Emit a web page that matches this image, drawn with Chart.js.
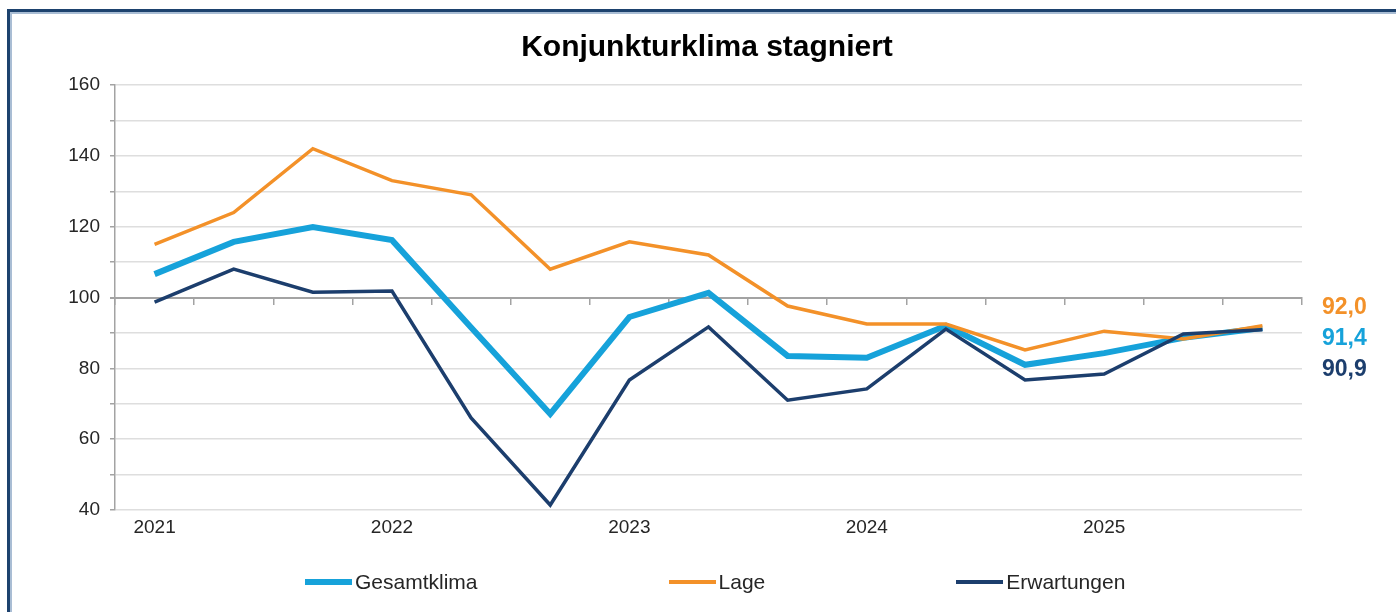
<!DOCTYPE html>
<html lang="de">
<head>
<meta charset="UTF-8">
<title>Konjunkturklima stagniert</title>
<style>
    body { margin: 0; width: 1396px; height: 612px; background: #fff; position: relative; overflow: hidden; font-family: "Liberation Sans", Arial, sans-serif; }
    #rahmen { position: absolute; left: 7px; top: 9px; width: 1400px; height: 620px; border-left: 3px solid #1d426e; border-top: 3px solid #1d426e; box-shadow: inset 2px 2px 0 #a9bdd4; }
    #chart { position: absolute; left: 0; top: 0; }
    #legende { position: absolute; left: 305px; top: 570px; display: flex; gap: 191px; font-size: 21px; color: #262626; }
    .eintrag { display: flex; align-items: center; }
    .linie { width: 47px; margin-right: 3px; }
</style>
</head>
<body>
    <div id="rahmen"></div>
    <canvas id="chart" width="1396" height="612"></canvas>
    <div id="legende"></div>

    <script src="https://cdn.jsdelivr.net/npm/chart.js"></script>
    <script>
        // drei Werte pro Jahr, 2021 bis 2025
        const perioden = ['2021-1', '2021-2', '2021-3', '2022-1', '2022-2', '2022-3', '2023-1', '2023-2', '2023-3',
            '2024-1', '2024-2', '2024-3', '2025-1', '2025-2', '2025-3'];
        const jahre = ['2021', '2022', '2023', '2024', '2025'];
        const yTicks = [40, 60, 80, 100, 120, 140, 160];

        const gesamtklima = [106.6, 115.7, 119.9, 116.2, 91.5, 67.1, 94.5, 101.3, 83.5, 83.0, 92.0, 81.0, 84.3, 88.6, 91.4];
        const lage = [115.0, 124.0, 142.0, 133.0, 129.0, 108.0, 115.7, 112.0, 97.6, 92.5, 92.5, 85.2, 90.5, 88.3, 92.0];
        const erwartungen = [98.7, 108.0, 101.5, 101.8, 66.0, 41.4, 76.7, 91.7, 71.0, 74.2, 91.1, 76.7, 78.4, 89.7, 90.9];

        const serien = [
            { label: 'Gesamtklima', data: gesamtklima, color: '#16a2da', width: 6, order: 2 },
            { label: 'Lage', data: lage, color: '#f39129', width: 3.5, order: 1 },
            { label: 'Erwartungen', data: erwartungen, color: '#1c3e6d', width: 3.5, order: 0 }
        ];

        // Legende als HTML
        const legende = document.getElementById('legende');
        serien.forEach(s => {
            legende.innerHTML += `<div class="eintrag"><span class="linie" style="height:${s.width}px;background:${s.color}"></span>${s.label}</div>`;
        });

        const endwerte = {
            id: 'endwerte',
            afterDraw(chart) {
                const ctx = chart.ctx;
                const y100 = chart.scales.y.getPixelForValue(100);
                const sortiert = [...serien].sort((a, b) => b.data[b.data.length - 1] - a.data[a.data.length - 1]);
                ctx.save();
                ctx.font = 'bold 23px "Liberation Sans", Arial, sans-serif';
                ctx.textBaseline = 'middle';
                ctx.textAlign = 'left';
                sortiert.forEach((s, i) => {
                    const wert = s.data[s.data.length - 1].toFixed(1).replace('.', ',');
                    ctx.fillStyle = s.color;
                    ctx.fillText(wert, chart.chartArea.right + 20, y100 + 10 + i * 31);
                });
                ctx.restore();
            }
        };

        Chart.defaults.font.family = '"Liberation Sans", Arial, sans-serif';
        Chart.defaults.color = '#262626';

        new Chart(document.getElementById('chart'), {
            type: 'line',
            data: {
                labels: perioden,
                datasets: serien.map(s => ({
                    label: s.label,
                    data: s.data,
                    borderColor: s.color,
                    backgroundColor: s.color,
                    borderWidth: s.width,
                    pointRadius: 0,
                    tension: 0,
                    order: s.order
                }))
            },
            options: {
                responsive: false,
                animation: false,
                devicePixelRatio: 1,
                layout: { padding: { left: 18, right: 0, top: 0, bottom: 72 } },
                plugins: {
                    legend: { display: false },
                    tooltip: { enabled: false },
                    title: {
                        display: true,
                        text: 'Konjunkturklima stagniert',
                        color: '#000',
                        font: { size: 30, weight: 'bold' },
                        padding: { top: 30, bottom: 19 }
                    }
                },
                scales: {
                    x: {
                        offset: true,
                        grid: { display: false },
                        border: { display: false },
                        ticks: {
                            autoSkip: false,
                            maxRotation: 0,
                            padding: -2,
                            font: { size: 19 },
                            callback: (v, i) => i % 3 === 0 ? jahre[i / 3] : ''
                        },
                        afterFit: s => { s.height = 30; }
                    },
                    x2: {
                        type: 'category',
                        labels: perioden,
                        offset: true,
                        position: { y: 100 },
                        grid: { offset: true, drawOnChartArea: false, tickLength: 6, color: '#a3a3a3', lineWidth: 1.5 },
                        border: { display: true, color: '#a3a3a3', width: 2 },
                        ticks: { display: false }
                    },
                    y: {
                        min: 40,
                        max: 160,
                        ticks: {
                            stepSize: 10,
                            padding: 10,
                            font: { size: 19 },
                            callback: v => yTicks.includes(v) ? v : ''
                        },
                        grid: {
                            color: c => c.tick && c.tick.value === 100 ? '#a3a3a3' : '#dedede',
                            lineWidth: c => c.tick && c.tick.value === 100 ? 2 : 1.5,
                            tickLength: 5,
                            tickColor: '#a3a3a3'
                        },
                        border: { display: true, color: '#a3a3a3', width: 1.5 },
                        afterFit: s => { s.width = 97; }
                    },
                    // leere rechte Achse als Platz fuer die Endwerte
                    yRechts: {
                        position: 'right',
                        min: 40,
                        max: 160,
                        grid: { display: false },
                        border: { display: false },
                        ticks: { display: false },
                        afterFit: s => { s.width = 94; }
                    }
                }
            },
            plugins: [endwerte]
        });
    </script>
</body>
</html>
